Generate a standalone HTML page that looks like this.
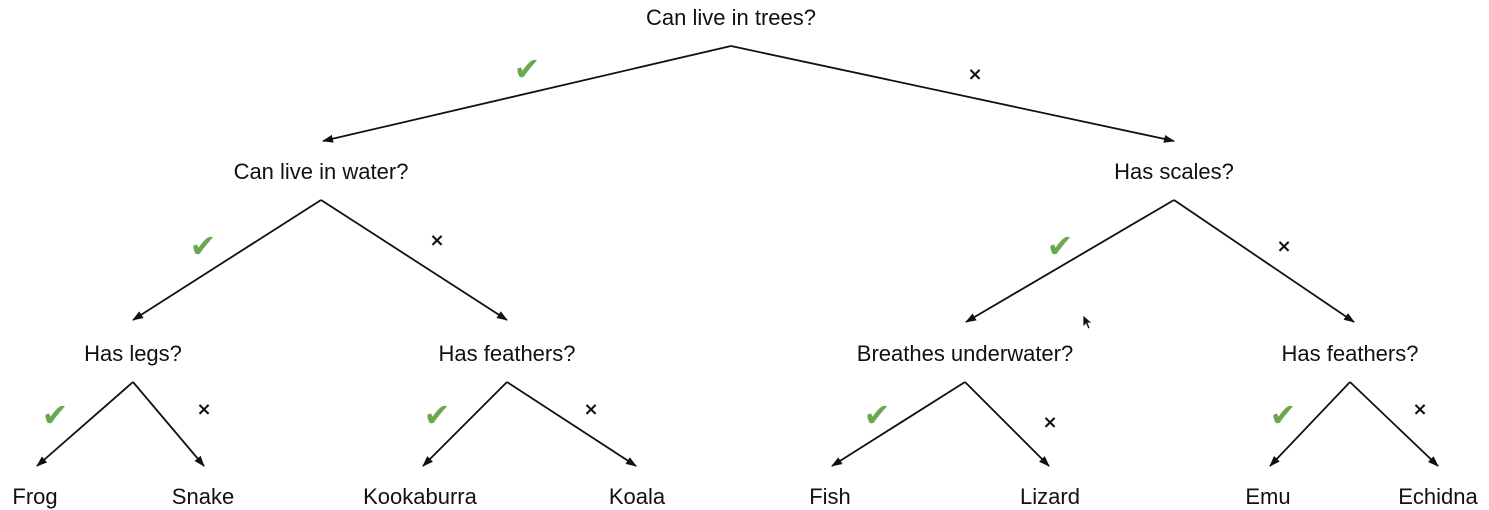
<!DOCTYPE html>
<html><head><meta charset="utf-8"><style>
html,body{margin:0;padding:0;background:#fff;}
svg{display:block;font-family:"Liberation Sans",Arial,sans-serif;}
text{font-size:22px;fill:#111;text-anchor:middle;}
.chk{fill:#6aa84f;font-size:32px;font-family:"DejaVu Sans",sans-serif;}
.x{font-size:18px;font-weight:bold;font-family:"DejaVu Sans",sans-serif;}
</style></head><body>
<svg id="tree" width="1489" height="510" viewBox="0 0 1489 510">
<defs><marker id="ah" markerWidth="11" markerHeight="8" refX="10" refY="4" orient="auto" markerUnits="userSpaceOnUse"><path d="M0,0 L11,4 L0,8 z" fill="#111"/></marker></defs>
<g id="edges"></g>
<g id="labels"></g>
<path d="M1083,315 L1083,327 L1086,324 L1088,329 L1090,328 L1088,323 L1092,323 Z" fill="#111" stroke="#fff" stroke-width="0.8"/>
</svg>
<script>
const nodeNames = ["Can live in trees?","Can live in water?","Has scales?","Has legs?","Has feathers?","Breathes underwater?","Has feathers?","Frog","Snake","Kookaburra","Koala","Fish","Lizard","Emu","Echidna"];
const nodeX = [731,321,1174,133,507,965,1350,35,203,420,637,830,1050,1268,1438];
const nodeY = [25,179,179,361,361,361,361,504,504,504,504,504,504,504,504];
const edges = [[0,1,323,141,527,68,975,73],[0,2,1174,141,0,0,0,0],[1,3,133,320,203,245,437,239],[1,4,507,320,0,0,0,0],[2,5,966,322,1060,245,1284,245],[2,6,1354,322,0,0,0,0],[3,7,37,466,55,414,204,408],[3,8,204,466,0,0,0,0],[4,9,423,466,437,414,591,408],[4,10,636,466,0,0,0,0],[5,11,832,466,877,414,1050,421],[5,12,1049,466,0,0,0,0],[6,13,1270,466,1283,414,1420,408],[6,14,1438,466,0,0,0,0]];
const NS="http://www.w3.org/2000/svg";
const eg=document.getElementById('edges'), lg=document.getElementById('labels');
nodeNames.forEach((n,i)=>{
  const t=document.createElementNS(NS,'text');
  t.setAttribute('x',nodeX[i]);t.setAttribute('y',nodeY[i]);t.textContent=n;
  
  
  lg.appendChild(t);
});
edges.forEach(e=>{
  const p=e[0];
  const ax=nodeX[p], ay=nodeY[p]+21;
  const l=document.createElementNS(NS,'line');
  l.setAttribute('x1',ax);l.setAttribute('y1',ay);l.setAttribute('x2',e[2]);l.setAttribute('y2',e[3]);
  l.setAttribute('stroke','#111');l.setAttribute('stroke-width','1.8');l.setAttribute('marker-end','url(#ah)');
  
  
  eg.appendChild(l);
  if(e[4]){
    const c=document.createElementNS(NS,'text');
    c.setAttribute('class','chk');c.setAttribute('x',e[4]);c.setAttribute('y',e[5]+12);c.textContent='✔';
    
    
    lg.appendChild(c);
    const x=document.createElementNS(NS,'text');
    x.setAttribute('class','x');x.setAttribute('x',e[6]);x.setAttribute('y',e[7]+7);x.textContent='×';
    
    
    lg.appendChild(x);
  }
});
</script>
</body></html>
